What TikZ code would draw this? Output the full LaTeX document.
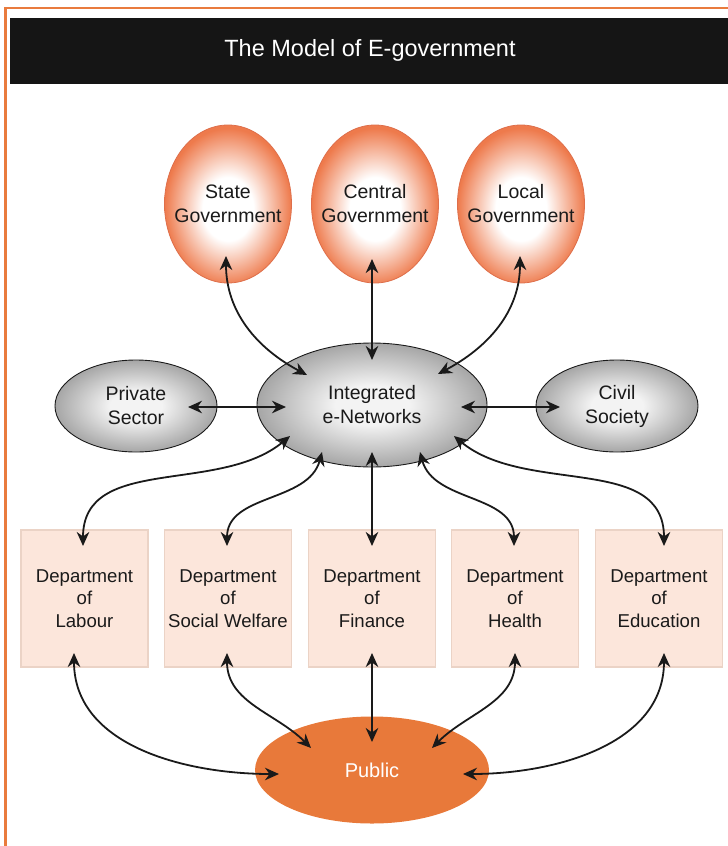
\documentclass[tikz,border=0pt]{standalone}
\usepackage{fontspec}
\setmainfont{Liberation Sans}
\usepackage{tikz}
\usetikzlibrary{positioning,calc,arrows.meta,shapes.geometric}
\usepackage{xcolor}

\definecolor{frameorange}{HTML}{E97B3D}
\definecolor{govorange}{HTML}{EE7A4C}
\definecolor{govline}{HTML}{DE6F4B}
\definecolor{netgray}{HTML}{A6A6A6}
\definecolor{netlight}{HTML}{F3F3F3}
\definecolor{deptfill}{HTML}{FCE6DB}
\definecolor{deptline}{HTML}{EBD3C6}
\definecolor{publicorange}{HTML}{E8793A}
\definecolor{banner}{HTML}{151515}
\definecolor{ink}{HTML}{1A1A1A}

\pgfdeclareradialshading{govshade}{\pgfpoint{0bp}{-2bp}}{color(0bp)=(white); color(10bp)=(white); color(25bp)=(govorange); color(50bp)=(govorange)}
\pgfdeclareradialshading{netshade}{\pgfpoint{0bp}{0bp}}{color(0bp)=(netlight); color(8bp)=(netlight); color(25bp)=(netgray); color(50bp)=(netgray)}

\begin{document}
\begin{tikzpicture}[x=1pt,y=-1pt,
    txt/.style={font=\fontsize{19.5}{24}\selectfont, text=ink, align=center},
    gov/.style={ellipse, draw=govline, line width=0.8pt, shading=govshade,
      minimum width=127pt, minimum height=158pt, inner sep=0pt},
    net/.style={ellipse, draw=ink, line width=0.9pt, shading=netshade, txt,
      inner sep=0pt},
    dept/.style={rectangle, fill=deptfill, draw=deptline, line width=1.5pt,
      minimum width=127pt, minimum height=137pt, inner sep=0pt, align=center,
      font=\fontsize{18.6}{22.5}\selectfont, text=ink},
    link/.style={<->, >={Stealth[length=14pt,width=12.5pt,inset=4.5pt]},
      line width=1.8pt, draw=ink}]
    \useasboundingbox (0,0) rectangle (728,846);

    % frame and heading
    \draw[frameorange, line width=2.6pt] (5.5,846) -- (5.5,8) -- (728,8);
    \fill[banner] (10,17.5) rectangle (728,83.5);
    \node[font=\fontsize{23.5}{28}\selectfont, text=white] (title) at (370,50.5)
      {The Model of E-government};

    % Governments
    \node[gov, label={[txt]center:State\\Government}] (state) at (228,204) {};
    \node[gov, label={[txt]center:Central\\Government}] (central) at (375,204) {};
    \node[gov, label={[txt]center:Local\\Government}] (local) at (521,204) {};

    % Networks
    \node[net, minimum width=230pt, minimum height=124pt] (net) at (372,405)
      {Integrated\\e-Networks};
    \node[net, minimum width=162pt, minimum height=92pt] (private) at (136,406)
      {Private\\Sector};
    \node[net, minimum width=162pt, minimum height=92pt] (civil) at (617,406)
      {Civil\\Society};

    % Departments
    \foreach \name/\x/\field in {labour/84.5/Labour, welfare/228/Social Welfare,
        finance/372/Finance, health/515/Health, educ/659/Education}
      \node[dept] (\name) at (\x,598.5) {Department\\of\\\field};

    % Public
    \node[ellipse, fill=publicorange, minimum width=234pt, minimum height=107pt,
      inner sep=0pt, text=white, font=\fontsize{20}{24}\selectfont] (public)
      at (372,770) {Public};

    % Governments to network
    \draw[link] ($(state)+(-2,52)$) to[out=270,in=152] ($(net)+(-65,-30)$);
    \draw[link] ($(central)+(-3,55)$) -- ($(net)+(0,-45)$);
    \draw[link] ($(local)+(-1,52)$) to[out=270,in=28] ($(net)+(66,-31)$);

    % Sectors to network
    \draw[link] ($(private)+(52,1)$) -- ($(net)+(-86,2)$);
    \draw[link] ($(net)+(89,2)$) -- ($(civil)+(-57,1)$);

    % Network to departments
    \draw[link] ($(net)+(-82,31)$) to[out=220,in=90] ($(labour)+(-1.5,-52.5)$);
    \draw[link] ($(net)+(-50,47)$) to[out=255,in=90] ($(welfare)+(-1,-52.5)$);
    \draw[link] ($(net)+(0,47)$) -- ($(finance)+(0,-52.5)$);
    \draw[link] ($(net)+(48,47)$) to[out=285,in=90] ($(health)+(-1,-52.5)$);
    \draw[link] ($(net)+(82,31)$) to[out=320,in=90] ($(educ)+(5,-52.5)$);

    % Departments to public
    \draw[link] ($(labour)+(-10.5,54.5)$) to[out=270,in=180] ($(public)+(-93,4)$);
    \draw[link] ($(welfare)+(-1,54.5)$) to[out=270,in=135] ($(public)+(-61,-22)$);
    \draw[link] ($(finance)+(0,54.5)$) -- ($(public)+(0,-28)$);
    \draw[link] ($(health)+(0,54.5)$) to[out=270,in=45] ($(public)+(60,-22)$);
    \draw[link] ($(educ)+(5,54.5)$) to[out=270,in=0] ($(public)+(91,4)$);
\end{tikzpicture}
\end{document}
